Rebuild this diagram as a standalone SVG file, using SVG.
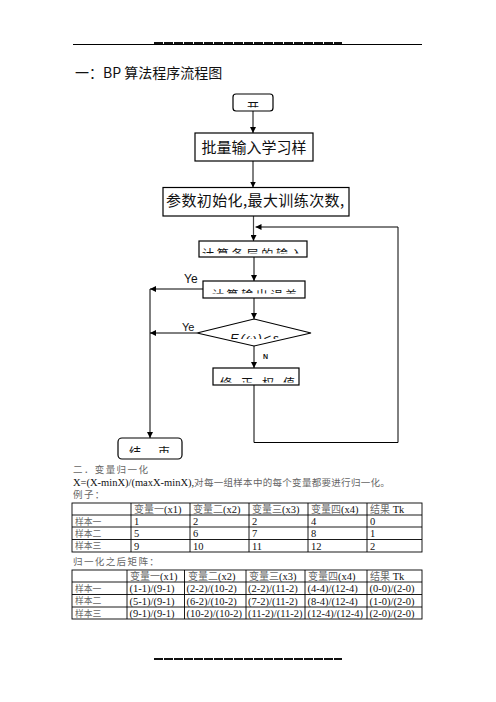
<svg xmlns="http://www.w3.org/2000/svg" width="496" height="702" viewBox="0 0 496 702">
<style>
.ln{stroke:#000;stroke-width:1;fill:none}
.gl{stroke:#444;stroke-width:1.2;fill:none}
.box{fill:#fff;stroke:#000;stroke-width:1.2}
.fc{font-family:"Noto Sans CJK SC",sans-serif;fill:#111}
.lat{font-family:"Liberation Sans",Arial,sans-serif;fill:#111}
.doc{font-family:"Liberation Serif","Noto Sans CJK SC",serif;font-size:10.5px;fill:#111}
.cj{fill:#666;font-family:"Noto Sans CJK SC",sans-serif;font-size:10px}
.pj{fill:#666;font-family:"Noto Sans CJK SC",sans-serif;font-size:9.5px;letter-spacing:1.4px}
.rl{fill:#666;font-family:"Noto Sans CJK SC",sans-serif;font-size:8.8px}
.tb{stroke:#000;stroke-width:0.9;fill:none}
</style>
<defs>
<marker id="ah" viewBox="0 0 8 8" refX="8" refY="4" markerWidth="6" markerHeight="6" markerUnits="userSpaceOnUse" orient="auto">
<path d="M0,0 L8,4 L0,8 z" fill="#000"/>
</marker>
<clipPath id="cS" clipPathUnits="userSpaceOnUse"><rect x="233" y="94" width="40" height="13.5"/></clipPath>
<clipPath id="cA" clipPathUnits="userSpaceOnUse"><rect x="199" y="242" width="108" height="11.5"/></clipPath>
<clipPath id="cB" clipPathUnits="userSpaceOnUse"><rect x="203" y="282" width="102" height="11.5"/></clipPath>
<clipPath id="cD" clipPathUnits="userSpaceOnUse"><rect x="200" y="320" width="110" height="19"/></clipPath>
<clipPath id="cC" clipPathUnits="userSpaceOnUse"><rect x="213" y="369" width="86" height="13.5"/></clipPath>
<clipPath id="cE" clipPathUnits="userSpaceOnUse"><rect x="118" y="439" width="64" height="14"/></clipPath>
<clipPath id="cY" clipPathUnits="userSpaceOnUse"><rect x="170" y="315" width="30" height="17"/></clipPath>
</defs>

<g id="header">
<line class="ln" x1="73" y1="44.5" x2="422" y2="44.5"/>
<line x1="154" y1="43" x2="342" y2="43" stroke="#111" stroke-width="2" stroke-dasharray="9 1"/>
<text x="75" y="78" class="fc" font-size="14">一：BP 算法程序流程图</text>
</g>

<g id="connectors">
<line class="ln" x1="253" y1="111" x2="253" y2="133" marker-end="url(#ah)"/>
<line class="ln" x1="253" y1="161" x2="253" y2="187.5" marker-end="url(#ah)"/>
<line class="gl" x1="253.5" y1="216" x2="253.5" y2="241" marker-end="url(#ah)"/>
<line class="ln" x1="254" y1="257" x2="254" y2="281" marker-end="url(#ah)"/>
<line class="ln" x1="254" y1="298" x2="254" y2="319" marker-end="url(#ah)"/>
<line class="ln" x1="254" y1="346" x2="254" y2="368" marker-end="url(#ah)"/>
<path class="ln" d="M203,289 H150" marker-end="url(#ah)"/>
<path class="ln" d="M150,289 V438" marker-end="url(#ah)"/>
<path class="ln" d="M197,333 H150" marker-end="url(#ah)"/>
<path class="ln" d="M254,385 V442.5 H398 V227 H255.5" marker-end="url(#ah)"/>
<text x="184" y="283" class="lat" font-size="12">Ye</text>
<text x="182" y="331" class="lat" font-size="11" clip-path="url(#cY)">Ye</text>
<text x="263" y="359" class="lat" font-size="7" font-weight="bold">N</text>
</g>

<g id="start">
<rect class="box" x="233" y="94" width="40" height="17" rx="3"/>
<text x="253" y="112" class="fc" font-size="12" text-anchor="middle" clip-path="url(#cS)">开</text>
</g>

<g id="input">
<rect class="box" x="195" y="133" width="118" height="28"/>
<text x="254" y="153" class="fc" font-size="15" text-anchor="middle">批量输入学习样</text>
</g>

<g id="init">
<rect class="box" x="163" y="187.5" width="186" height="28.5"/>
<text x="166" y="206" class="fc" font-size="15" letter-spacing="0.4">参数初始化,最大训练次数,</text>
</g>

<g id="layer-io">
<rect class="box" x="199" y="241" width="108" height="16"/>
<text x="202" y="258.5" class="fc" font-size="12" letter-spacing="2.8" clip-path="url(#cA)">计算各层的输入</text>
</g>

<g id="output-error">
<rect class="box" x="203" y="281" width="102" height="17"/>
<text x="212" y="299.5" class="fc" font-size="12" letter-spacing="2.6" clip-path="url(#cB)">计算输出误差</text>
</g>

<g id="check">
<polygon class="box" points="254,319 311,333 254,346 197,333"/>
<text x="230" y="343" class="lat" font-size="13" font-style="italic" letter-spacing="1.5" clip-path="url(#cD)">E(ω)&lt;ε</text>
</g>

<g id="update">
<rect class="box" x="213" y="368" width="86" height="17"/>
<text x="220" y="387.5" class="fc" font-size="12" letter-spacing="9" clip-path="url(#cC)">修正权值</text>
</g>

<g id="end">
<rect class="box" x="118" y="438" width="64" height="21" rx="4"/>
<g clip-path="url(#cE)">
<text x="129" y="457" class="fc" font-size="12">结</text>
<text x="158" y="457" class="fc" font-size="12">束</text>
</g>
</g>

<g id="section2">
<text x="73" y="472.5" class="pj">二．变量归一化</text>
<text x="73" y="485.5" class="doc"><tspan>X=(X-minX)/(maxX-minX),</tspan><tspan class="pj" style="letter-spacing:0.3px">对每一组样本中的每个变量都要进行归一化。</tspan></text>
<text x="73" y="498" class="pj">例子：</text>
</g>

<g id="table1">
<rect class="tb" x="72" y="503" width="350" height="49"/>
<line class="tb" x1="72" y1="515" x2="422" y2="515"/>
<line class="tb" x1="72" y1="527" x2="422" y2="527"/>
<line class="tb" x1="72" y1="539.5" x2="422" y2="539.5"/>
<line class="tb" x1="131" y1="503" x2="131" y2="552"/>
<line class="tb" x1="190" y1="503" x2="190" y2="552"/>
<line class="tb" x1="249" y1="503" x2="249" y2="552"/>
<line class="tb" x1="308" y1="503" x2="308" y2="552"/>
<line class="tb" x1="367" y1="503" x2="367" y2="552"/>
<g class="doc">
<text x="134" y="513"><tspan class="cj">变量一</tspan>(x1)</text>
<text x="193" y="513"><tspan class="cj">变量二</tspan>(x2)</text>
<text x="252" y="513"><tspan class="cj">变量三</tspan>(x3)</text>
<text x="311" y="513"><tspan class="cj">变量四</tspan>(x4)</text>
<text x="370" y="513"><tspan class="cj">结果</tspan> Tk</text>
<text x="75" y="524.5" class="rl">样本一</text>
<text x="134" y="525">1</text><text x="193" y="525">2</text><text x="252" y="525">2</text><text x="311" y="525">4</text><text x="370" y="525">0</text>
<text x="75" y="536.8" class="rl">样本二</text>
<text x="134" y="537">5</text><text x="193" y="537">6</text><text x="252" y="537">7</text><text x="311" y="537">8</text><text x="370" y="537">1</text>
<text x="75" y="549" class="rl">样本三</text>
<text x="134" y="549.5">9</text><text x="193" y="549.5">10</text><text x="252" y="549.5">11</text><text x="311" y="549.5">12</text><text x="370" y="549.5">2</text>
</g>
</g>

<text x="73" y="565" class="pj">归一化之后矩阵：</text>

<g id="table2">
<rect class="tb" x="72" y="570" width="350" height="49"/>
<line class="tb" x1="72" y1="582" x2="422" y2="582"/>
<line class="tb" x1="72" y1="594.5" x2="422" y2="594.5"/>
<line class="tb" x1="72" y1="607" x2="422" y2="607"/>
<line class="tb" x1="127" y1="570" x2="127" y2="619"/>
<line class="tb" x1="184.5" y1="570" x2="184.5" y2="619"/>
<line class="tb" x1="246" y1="570" x2="246" y2="619"/>
<line class="tb" x1="305" y1="570" x2="305" y2="619"/>
<line class="tb" x1="367" y1="570" x2="367" y2="619"/>
<g class="doc" font-size="10">
<text x="130" y="580"><tspan class="cj">变量一</tspan>(x1)</text>
<text x="188" y="580"><tspan class="cj">变量二</tspan>(x2)</text>
<text x="249" y="580"><tspan class="cj">变量三</tspan>(x3)</text>
<text x="308" y="580"><tspan class="cj">变量四</tspan>(x4)</text>
<text x="370" y="580"><tspan class="cj">结果</tspan> Tk</text>
<text x="75" y="591.8" class="rl">样本一</text>
<text x="129.5" y="592">(1-1)/(9-1)</text><text x="186.5" y="592">(2-2)/(10-2)</text><text x="248" y="592">(2-2)/(11-2)</text><text x="307.5" y="592">(4-4)/(12-4)</text><text x="369.5" y="592">(0-0)/(2-0)</text>
<text x="75" y="604.3" class="rl">样本二</text>
<text x="129.5" y="604.5">(5-1)/(9-1)</text><text x="186.5" y="604.5">(6-2)/(10-2)</text><text x="248" y="604.5">(7-2)/(11-2)</text><text x="307.5" y="604.5">(8-4)/(12-4)</text><text x="369.5" y="604.5">(1-0)/(2-0)</text>
<text x="75" y="616.8" class="rl">样本三</text>
<text x="129.5" y="617">(9-1)/(9-1)</text><text x="186.5" y="617">(10-2)/(10-2)</text><text x="248" y="617">(11-2)/(11-2)</text><text x="307.5" y="617">(12-4)/(12-4)</text><text x="369.5" y="617">(2-0)/(2-0)</text>
</g>
</g>

<g id="footer">
<line x1="154" y1="659" x2="342" y2="659" stroke="#111" stroke-width="2" stroke-dasharray="9 1"/>
</g>
</svg>
